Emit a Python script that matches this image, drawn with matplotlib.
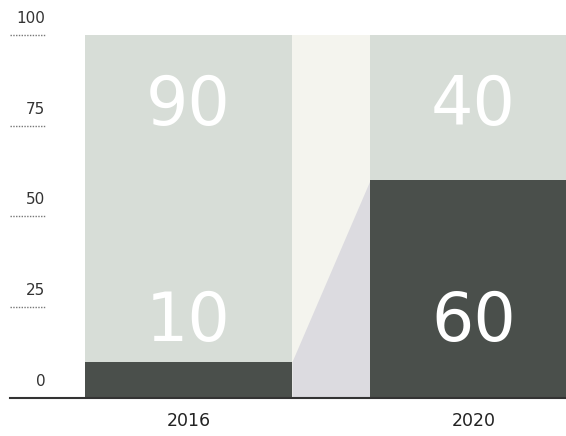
import matplotlib.pyplot as plt
import numpy as np

# data
years = ['2016', '2020']
dark_vals = [10, 60]     # bottom segment
light_vals = [90, 40]    # top segment
yticks = [0, 25, 50, 75, 100]

light_col = '#d7ddd7'
dark_col = '#4a4f4b'
gap_col = '#f4f4ee'
tri_col = '#dcdbe0'

fig = plt.figure(figsize=(5.66, 4.36), dpi=100)
ax = fig.add_axes([0, 1 - 398 / 436, 1, (398 - 35) / 436])

x = np.arange(len(years))
w = 0.726
ax.bar(x, dark_vals, width=w, color=dark_col, zorder=2)
ax.bar(x, light_vals, bottom=dark_vals, width=w, color=light_col, zorder=2)

# connector between the two bars
x0, x1 = x[0] + w / 2, x[1] - w / 2
ax.fill_between([x0, x1], 0, 100, color=gap_col, zorder=1, lw=0)
ax.fill_between([x0, x1], 0, dark_vals, color=tri_col, zorder=1.5, lw=0)

for i in range(len(years)):
    ax.text(x[i], 80.5, str(light_vals[i]), ha='center', va='center',
            color='white', fontsize=48, family='DejaVu Sans', zorder=4)
    ax.text(x[i], 21, str(dark_vals[i]), ha='center', va='center',
            color='white', fontsize=48, family='DejaVu Sans', zorder=4)
    ax.text(x[i], -6.2, years[i], ha='center', va='center', fontsize=12.5,
            color='#222222', family='DejaVu Sans')

ax.set_xlim(-188.5 / 285, (566 - 188.5) / 285)
ax.set_ylim(0, 100)
ax.axis('off')

# y labels with dotted underline on the left
tr = ax.get_yaxis_transform()
for t in yticks:
    ax.text(0.08, t + 4.6, str(t), transform=tr, ha='right', va='center',
            fontsize=11, color='#333333')
    if t > 0:
        ax.plot([0.018, 0.08], [t, t], transform=tr, color='#777777',
                lw=1, ls=(0, (1, 1)), clip_on=False)
ax.plot([0.018, 1], [0, 0], transform=tr, color='#333333', lw=1.5,
        clip_on=False, zorder=3)

fig.savefig('out.png', dpi=100)
